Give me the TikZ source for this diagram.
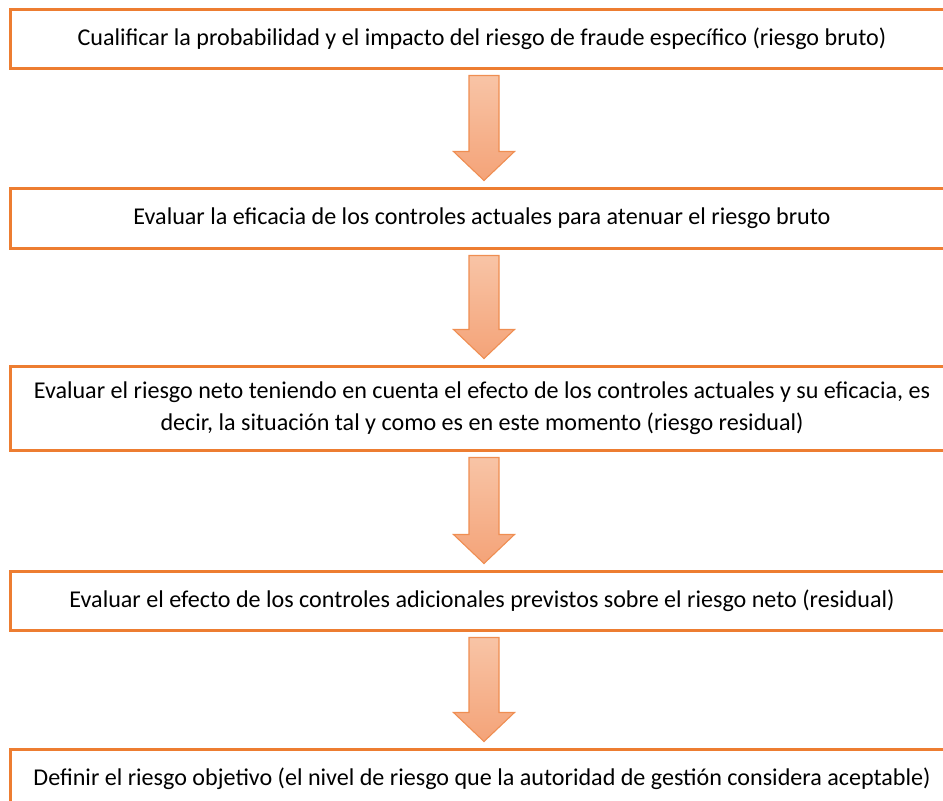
\documentclass[tikz,border=0pt]{standalone}
\usepackage{fontspec}
\setmainfont{Carlito}
\usetikzlibrary{calc}
\definecolor{boxorange}{HTML}{ED7D31}
\definecolor{arrowtop}{HTML}{F8C4A6}
\definecolor{arrowbot}{HTML}{F4A378}
\definecolor{arrowline}{HTML}{EF8E52}
\begin{document}
\begin{tikzpicture}[x=1pt,y=-1pt,
  stepbox/.style={draw=boxorange,line width=3pt,fill=white,minimum width=944pt,
    inner sep=0pt,align=center,font=\fontsize{24.1}{32}\selectfont,text=black},
  blockarrow/.style={draw=arrowline,line width=1.1pt,top color=arrowtop,bottom color=arrowbot,line join=miter}]
\useasboundingbox (0,0) rectangle (943,801);
\clip (0,0) rectangle (943,801);
\node[stepbox,minimum height=59pt] (b1) at (482,38.5) {Cualificar la probabilidad y el impacto del riesgo de fraude específico (riesgo bruto)};
\node[stepbox,minimum height=60pt] (b2) at (482,218) {Evaluar la eficacia de los controles actuales para atenuar el riesgo bruto};
\node[stepbox,minimum height=84pt] (b3) at (482,408) {Evaluar el riesgo neto teniendo en cuenta el efecto de los controles actuales y su eficacia, es\\decir, la situación tal y como es en este momento (riesgo residual)};
\node[stepbox,minimum height=59pt] (b4) at (482,600.5) {Evaluar el efecto de los controles adicionales previstos sobre el riesgo neto (residual)};
\node[stepbox,minimum height=59pt] (b5) at (482,778.5) {Definir el riesgo objetivo (el nivel de riesgo que la autoridad de gestión considera aceptable)};
\foreach \a/\b in {b1/b2,b2/b3,b3/b4,b4/b5}{
  \path[blockarrow] let \p1=($(\a.south)+(2,6)$), \p2=($(\b.north)+(2,-6)$) in
    (\x1-15pt,\y1) -- (\x1+15pt,\y1) -- (\x1+15pt,\y2+29pt) -- (\x1+30.5pt,\y2+29pt)
    -- (\x1,\y2) -- (\x1-30.5pt,\y2+29pt) -- (\x1-15pt,\y2+29pt) -- cycle;
}
\end{tikzpicture}
\end{document}
